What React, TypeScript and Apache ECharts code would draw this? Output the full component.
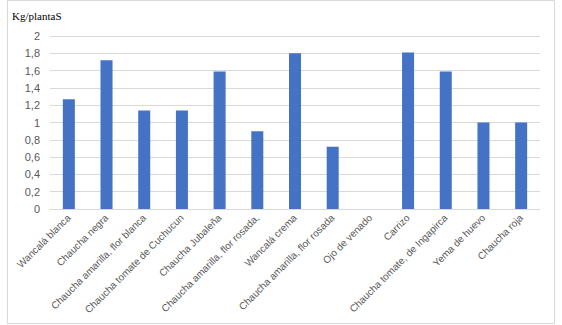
import React, { useEffect, useRef } from "react";
import * as echarts from "echarts";

const categories = [
  "Wancalá blanca",
  "Chaucha negra",
  "Chaucha amarilla, flor blanca",
  "Chaucha tomate de Cuchucun",
  "Chaucha Jubaleña",
  "Chaucha amarilla, flor rosada,",
  "Wancalá crema",
  "Chaucha amarilla, flor rosada",
  "Ojo de venado",
  "Carrizo",
  "Chaucha tomate, de Ingapirca",
  "Yema de huevo",
  "Chaucha roja",
];
const values = [1.27, 1.72, 1.14, 1.14, 1.59, 0.9, 1.8, 0.72, 0, 1.81, 1.59, 1.0, 1.0];
const yTitle = "Kg/plantaS";

export default function App() {
  const ref = useRef<HTMLDivElement>(null);
  useEffect(() => {
    document.body.style.margin = "0";
    const chart = echarts.init(ref.current!, null, { renderer: "svg" });
    chart.setOption({
      animation: false,
      backgroundColor: "#ffffff",
      graphic: [
        {
          type: "rect",
          shape: { x: 7.5, y: 0.5, width: 547, height: 323 },
          style: { fill: "none", stroke: "#d9d9d9", lineWidth: 1 },
          silent: true,
        },
        {
          type: "text",
          left: 12,
          top: 10,
          style: {
            text: yTitle,
            font: "11px 'Liberation Serif', 'Times New Roman', serif",
            fill: "#000000",
          },
        },
      ],
      grid: { left: 50, right: 22, top: 36, bottom: 116, containLabel: false },
      xAxis: {
        type: "category",
        data: categories,
        axisLine: { show: true, lineStyle: { color: "#d9d9d9", width: 1 } },
        axisTick: { show: false },
        axisLabel: {
          interval: 0,
          rotate: 45,
          margin: 7,
          color: "#595959",
          fontSize: 10,
          fontFamily: "'Liberation Sans', Arial, sans-serif",
        },
      },
      yAxis: {
        type: "value",
        min: 0,
        max: 2,
        interval: 0.2,
        axisLine: { show: false },
        axisTick: { show: false },
        splitLine: { lineStyle: { color: "#d9d9d9", width: 1 } },
        axisLabel: {
          color: "#595959",
          fontSize: 11,
          margin: 10,
          fontFamily: "'Liberation Sans', Arial, sans-serif",
          formatter: (v: number) => String(Math.round(v * 10) / 10).replace(".", ","),
        },
      },
      series: [
        {
          type: "bar",
          data: values,
          barWidth: 12,
          itemStyle: { color: "#4472C4" },
        },
      ],
    });
    return () => chart.dispose();
  }, []);
  return <div ref={ref} style={{ position: "absolute", left: 0, top: 0, width: 562, height: 325 }} />;
}
